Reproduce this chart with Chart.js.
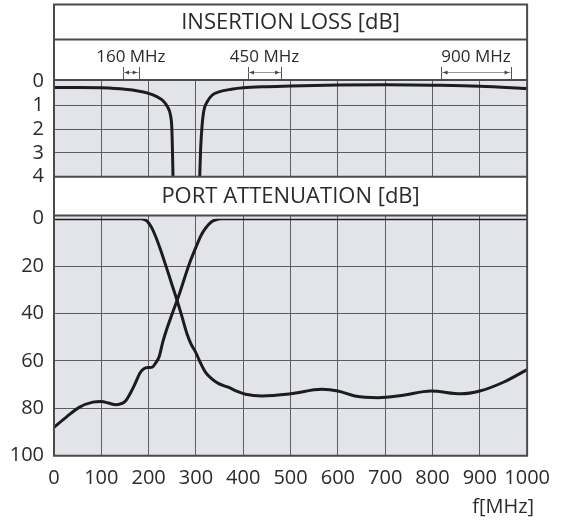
<!DOCTYPE html>
<html>
<head>
<meta charset="utf-8">
<script src="https://cdn.jsdelivr.net/npm/chart.js@4.4.0/dist/chart.umd.min.js"></script>
<style>
html,body{margin:0;padding:0;background:#fff;}
#wrap{position:relative;width:561px;height:524px;}
canvas{display:block;}
</style>
</head>
<body>
<div id="wrap"><canvas id="c" width="561" height="524"></canvas></div>
<script>
// ---------- data ----------
const FREQ_TICKS = [0, 100, 200, 300, 400, 500, 600, 700, 800, 900, 1000];
const IL_TICKS = [0, 1, 2, 3, 4];
const PA_TICKS = [0, 20, 40, 60, 80, 100];

const TITLE_IL = 'INSERTION LOSS [dB]';
const TITLE_PA = 'PORT ATTENUATION [dB]';
const X_TITLE = 'f[MHz]';

// insertion loss, lower branch (low-pass port)
const IL_LOW_FREQ = [0, 50, 100, 150, 180, 200, 215, 230, 240, 246, 249, 250.5, 251.5];
const IL_LOW_DB   = [0.25, 0.25, 0.27, 0.33, 0.41, 0.5, 0.62, 0.8, 1.07, 1.4, 1.95, 3.0, 4.0];
// insertion loss, upper branch (high-pass port)
const IL_HIGH_FREQ = [308, 310, 313, 317, 324, 334, 350, 375, 400, 450, 500, 600, 700, 800, 900, 1000];
const IL_HIGH_DB   = [4.0, 2.8, 1.85, 1.2, 0.85, 0.58, 0.43, 0.33, 0.27, 0.22, 0.19, 0.15, 0.14, 0.16, 0.2, 0.3];

// port attenuation, low-pass port
const PA_LP_FREQ = [0, 100, 185, 195, 200, 207, 215, 225, 236, 248, 260, 270, 281, 290, 299, 310, 320, 333, 347, 368, 389, 405, 440, 500, 566, 600, 636, 685, 734, 797, 860, 900, 951, 1000];
const PA_LP_DB   = [0, 0, 0, 0.8, 1.8, 4, 7.6, 13, 19.6, 27, 34.4, 41, 48.5, 53, 56.2, 61, 64.7, 67.5, 69.5, 71.1, 73, 74.1, 74.8, 73.9, 72, 72.7, 74.8, 75.5, 74.6, 72.7, 73.9, 72.7, 68.9, 63.7];
// port attenuation, high-pass port
const PA_HP_FREQ = [0, 26, 54, 82, 100, 115, 131, 145, 152, 163, 173, 182, 190, 200, 208, 216, 222, 230, 236, 250, 264, 285, 302, 311, 320, 333, 345, 352, 400, 1000];
const PA_HP_DB   = [88, 83.7, 79.5, 77.4, 77.1, 77.8, 78.5, 77.8, 76.7, 73, 68.9, 65, 63.3, 62.8, 62.6, 60.5, 58.4, 52, 48, 40, 32.3, 19.6, 11.1, 7, 4.1, 1.3, 0.3, 0, 0, 0];

// pass-band markers
const BAND_LABELS = ['160 MHz', '450 MHz', '900 MHz'];
const BAND_START  = [146, 410, 819];
const BAND_END    = [179, 480, 965];

// ---------- style ----------
const FONT = '"Open Sans", "DejaVu Sans", sans-serif';
const TEXT = '#2b2b2b';
const FRAME = '#4a4a4a';
const GRID = '#5e5e5e';
const PLOT_BG = '#e2e4ea';
const CURVE = '#1c1c1c';
const FRAME_TOP = 4.5;
const TITLE_BOTTOM = 39.5;
const PA_BOX_BOTTOM = 215.5;

function pts(xs, ys) { return xs.map((x, i) => ({x: x, y: ys[i]})); }
function ds(xs, ys, axis) {
  return {
    data: pts(xs, ys), yAxisID: axis, borderColor: CURVE, borderWidth: 3,
    pointRadius: 0, fill: false, cubicInterpolationMode: 'monotone',
    borderCapStyle: 'butt', borderJoinStyle: 'round'
  };
}
function hideEdge(lo, hi) {
  return ctx => (ctx.tick && (ctx.tick.value === lo || ctx.tick.value === hi)) ? 'rgba(0,0,0,0)' : GRID;
}
const plain = v => String(v);

const overlay = {
  id: 'overlay',
  beforeDraw(chart) {
    const {ctx, chartArea: a, scales} = chart;
    ctx.save();
    ctx.fillStyle = '#fff';
    ctx.fillRect(0, 0, chart.width, chart.height);
    ctx.fillStyle = PLOT_BG;
    const il = scales.yIL, pa = scales.yPA;
    ctx.fillRect(a.left, il.top, a.right - a.left, il.bottom - il.top);
    ctx.fillRect(a.left, PA_BOX_BOTTOM, a.right - a.left, pa.bottom - PA_BOX_BOTTOM);
    ctx.restore();
  },
  afterDraw(chart) {
    const {ctx, chartArea: a, scales} = chart;
    const x = scales.x, il = scales.yIL;
    const w = a.right - a.left;
    ctx.save();
    // white title boxes
    ctx.fillStyle = '#fff';
    ctx.fillRect(a.left, FRAME_TOP, w, a.top - FRAME_TOP);
    ctx.fillRect(a.left, il.bottom, w, PA_BOX_BOTTOM - il.bottom);
    // titles
    ctx.fillStyle = TEXT;
    ctx.textAlign = 'center';
    ctx.textBaseline = 'middle';
    ctx.font = '22px ' + FONT;
    ctx.fillText(TITLE_IL, (a.left + a.right) / 2, (FRAME_TOP + TITLE_BOTTOM) / 2 + 1);
    ctx.fillText(TITLE_PA, (a.left + a.right) / 2, (il.bottom + PA_BOX_BOTTOM) / 2 + 1);
    // axis unit label
    ctx.font = '20px ' + FONT;
    ctx.textAlign = 'right';
    ctx.fillText(X_TITLE, a.right + 7, 507);
    ctx.textAlign = 'center';
    // band markers
    ctx.font = '17px ' + FONT;
    for (let i = 0; i < BAND_LABELS.length; i++) {
      const x1 = x.getPixelForValue(BAND_START[i]);
      const x2 = x.getPixelForValue(BAND_END[i]);
      ctx.fillStyle = TEXT;
      ctx.fillText(BAND_LABELS[i], (x1 + x2) / 2, 57);
      ctx.strokeStyle = '#555';
      ctx.lineWidth = 1;
      ctx.beginPath();
      ctx.moveTo(Math.round(x1) + 0.5, 67); ctx.lineTo(Math.round(x1) + 0.5, a.top);
      ctx.moveTo(Math.round(x2) + 0.5, 67); ctx.lineTo(Math.round(x2) + 0.5, a.top);
      ctx.stroke();
      ctx.strokeStyle = '#999';
      ctx.beginPath();
      ctx.moveTo(x1, 72.5); ctx.lineTo(x2, 72.5);
      ctx.stroke();
      ctx.fillStyle = '#444';
      ctx.beginPath();
      ctx.moveTo(x1 + 1.5, 72.5); ctx.lineTo(x1 + 6, 70.5); ctx.lineTo(x1 + 6, 74.5); ctx.closePath();
      ctx.moveTo(x2 - 1.5, 72.5); ctx.lineTo(x2 - 6, 70.5); ctx.lineTo(x2 - 6, 74.5); ctx.closePath();
      ctx.fill();
    }
    // frame
    ctx.strokeStyle = FRAME;
    ctx.lineWidth = 2;
    ctx.beginPath();
    [FRAME_TOP, TITLE_BOTTOM, a.top, il.bottom, PA_BOX_BOTTOM, a.bottom].forEach(y => {
      ctx.moveTo(a.left - 1, y); ctx.lineTo(a.right + 1, y);
    });
    ctx.moveTo(a.left, FRAME_TOP); ctx.lineTo(a.left, a.bottom);
    ctx.moveTo(a.right, FRAME_TOP); ctx.lineTo(a.right, a.bottom);
    ctx.stroke();
    ctx.restore();
  }
};

function build() {
  new Chart(document.getElementById('c'), {
    type: 'line',
    data: {
      datasets: [
        ds(IL_LOW_FREQ, IL_LOW_DB, 'yIL'),
        ds(IL_HIGH_FREQ, IL_HIGH_DB, 'yIL'),
        ds(PA_LP_FREQ, PA_LP_DB, 'yPA'),
        ds(PA_HP_FREQ, PA_HP_DB, 'yPA')
      ]
    },
    options: {
      responsive: false,
      animation: false,
      devicePixelRatio: 1,
      layout: {padding: {top: 80, left: 0, right: 31, bottom: 0}},
      plugins: {legend: {display: false}, tooltip: {enabled: false}, title: {display: false}},
      scales: {
        x: {
          type: 'linear', position: 'bottom', min: 0, max: 1000,
          afterBuildTicks: s => { s.ticks = FREQ_TICKS.map(v => ({value: v})); },
          afterFit: s => { s.height = 68.3; },
          ticks: {font: {family: FONT, size: 20}, color: TEXT, padding: 11, maxRotation: 0, autoSkip: false, callback: plain},
          grid: {color: hideEdge(0, 1000), lineWidth: 1, drawTicks: false},
          border: {display: false},
          title: {display: false}
        },
        yIL: {
          type: 'linear', position: 'left', stack: 'left', stackWeight: 96.7, weight: 3,
          reverse: true, min: -0.06, max: 4,
          afterBuildTicks: s => { s.ticks = IL_TICKS.map(v => ({value: v})); },
          afterFit: s => { s.width = 54; },
          ticks: {font: {family: FONT, size: 20}, color: TEXT, padding: 10, autoSkip: false, callback: plain},
          grid: {color: hideEdge(0, 4), lineWidth: 1, drawTicks: false},
          border: {display: false}
        },
        yGap: {
          type: 'linear', position: 'left', stack: 'left', stackWeight: 42, weight: 2,
          afterFit: s => { s.width = 54; },
          ticks: {display: false},
          grid: {display: false, drawTicks: false},
          border: {display: false}
        },
        yPA: {
          type: 'linear', position: 'left', stack: 'left', stackWeight: 237, weight: 1,
          reverse: true, min: 0, max: 100,
          afterBuildTicks: s => { s.ticks = PA_TICKS.map(v => ({value: v})); },
          afterFit: s => { s.width = 54; },
          ticks: {font: {family: FONT, size: 20}, color: TEXT, padding: 10, autoSkip: false, callback: plain},
          grid: {color: hideEdge(0, 100), lineWidth: 1, drawTicks: false},
          border: {display: false}
        }
      }
    },
    plugins: [overlay]
  });
}

if (document.fonts && document.fonts.load) {
  Promise.all([document.fonts.load('22px "Open Sans"'), document.fonts.load('17px "Open Sans"')])
    .then(build, build);
} else {
  build();
}
</script>
</body>
</html>
